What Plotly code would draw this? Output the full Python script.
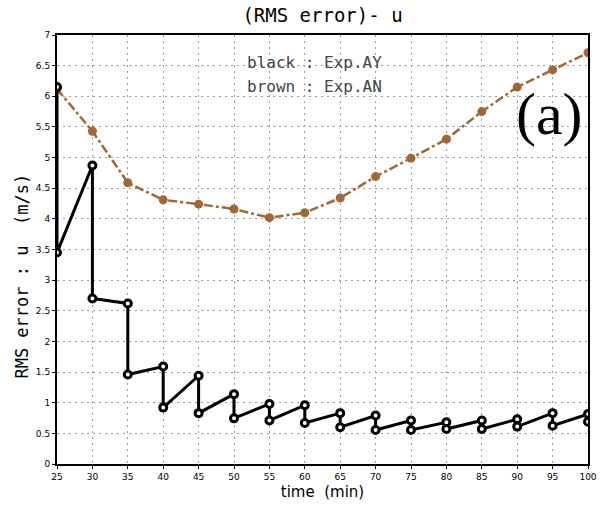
import plotly.graph_objects as go

times = [25, 30, 35, 40, 45, 50, 55, 60, 65, 70, 75, 80, 85, 90, 95, 100]
ay_before = [6.15, 4.87, 2.62, 1.59, 1.44, 1.14, 0.98, 0.96, 0.83, 0.79, 0.71, 0.68, 0.71, 0.73, 0.83, 0.815]
ay_after = [3.45, 2.70, 1.46, 0.92, 0.83, 0.745, 0.71, 0.67, 0.60, 0.555, 0.555, 0.57, 0.57, 0.61, 0.625, 0.69]
an_vals = [6.12, 5.43, 4.59, 4.31, 4.24, 4.16, 4.02, 4.10, 4.34, 4.69, 4.99, 5.30, 5.75, 6.15, 6.43, 6.71]

x_ay, y_ay = [], []
for t, b, a in zip(times, ay_before, ay_after):
    x_ay += [t, t]
    y_ay += [b, a]

brown = "rgb(160,104,52)"
fig = go.Figure()
fig.add_trace(go.Scatter(
    x=times, y=an_vals, mode="lines+markers",
    line=dict(color=brown, width=2.5, dash="dashdot"),
    marker=dict(color=brown, size=9), showlegend=False))
fig.add_trace(go.Scatter(
    x=x_ay, y=y_ay, mode="lines+markers",
    line=dict(color="black", width=3),
    marker=dict(color="white", size=7, symbol="circle", line=dict(color="black", width=3)),
    showlegend=False))

axis_common = dict(
    showgrid=True, gridcolor="#999999", griddash="2px,4px", gridwidth=1,
    showline=True, linecolor="black", linewidth=2, mirror=True,
    ticks="outside", ticklen=3, tickcolor="black", zeroline=False,
    tickfont=dict(family="DejaVu Sans", size=9, color="black"),
)
fig.update_xaxes(range=[25, 100], dtick=5, tick0=25,
                 title=dict(text="time  (min)", font=dict(family="DejaVu Sans", size=15, color="black"), standoff=6),
                 **axis_common)
fig.update_yaxes(range=[0, 7], dtick=0.5, tick0=0, **axis_common)

fig.add_annotation(x=-0.065, y=0.438, xref="paper", yref="paper", xanchor="center", yanchor="middle",
                   text="RMS error : u  (m/s)", textangle=-90, showarrow=False,
                   font=dict(family="DejaVu Sans Mono", size=17, color="black"))
fig.add_annotation(x=0.354, y=0.935, xref="paper", yref="paper", xanchor="left", yanchor="middle",
                   text="black : Exp.AY", showarrow=False,
                   font=dict(family="DejaVu Sans Mono", size=16, color="#444444"))
fig.add_annotation(x=0.354, y=0.881, xref="paper", yref="paper", xanchor="left", yanchor="middle",
                   text="brown : Exp.AN", showarrow=False,
                   font=dict(family="DejaVu Sans Mono", size=16, color="#444444"))
fig.add_annotation(x=0.995, y=0.815, xref="paper", yref="paper", xanchor="right", yanchor="middle",
                   text="(a)", showarrow=False,
                   font=dict(family="Liberation Serif", size=60, color="black"))

fig.update_layout(
    width=605, height=510,
    margin=dict(l=57, r=8, t=35, b=46),
    paper_bgcolor="white", plot_bgcolor="white",
    title=dict(text="(RMS error)- u", xref="paper", x=0.5, xanchor="center", y=0.97, yanchor="middle",
               font=dict(family="DejaVu Sans Mono", size=19, color="black")),
)

fig.write_html("out.html")
